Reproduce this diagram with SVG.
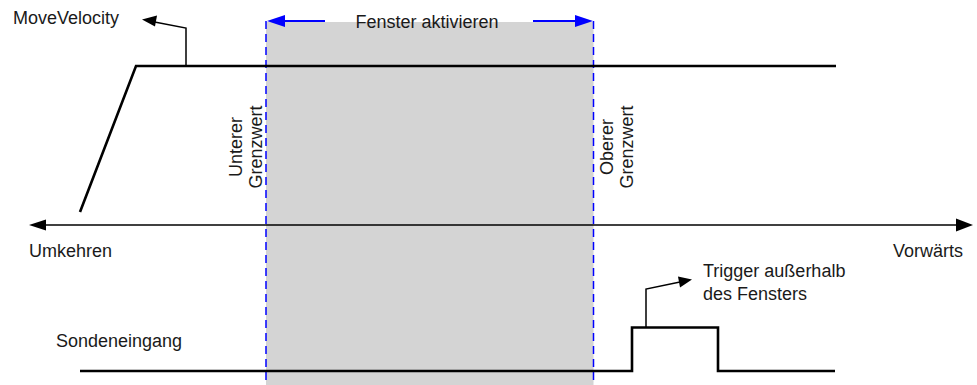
<svg xmlns="http://www.w3.org/2000/svg" width="977" height="385" viewBox="0 0 977 385">
<style>
  text { font-family: "Liberation Sans", Arial, sans-serif; font-size: 18px; fill: #1a1a1a; }
  .sig { fill: none; stroke: #000; stroke-width: 2.6; stroke-linejoin: miter; }
  .thin { fill: none; stroke: #000; stroke-width: 1.5; }
  .lim { fill: none; stroke: #0000ff; stroke-width: 1.5; stroke-dasharray: 8 5; }
  .blue { fill: none; stroke: #0000ff; stroke-width: 1.8; }
</style>
<defs>
  <marker id="ab" viewBox="0 0 16 12" refX="16" refY="6" markerWidth="16" markerHeight="12" markerUnits="userSpaceOnUse" orient="auto">
    <path d="M0,0 L16,6 L0,12 Z" fill="#000"/>
  </marker>
  <marker id="abl" viewBox="0 0 18 12" refX="18" refY="6" markerWidth="18" markerHeight="12" markerUnits="userSpaceOnUse" orient="auto">
    <path d="M0,0 L18,6 L0,12 Z" fill="#0000ff"/>
  </marker>
</defs>

<g id="window">
  <rect x="266" y="22" width="327.5" height="363" fill="#d4d4d4"/>
</g>

<g id="connectors">
  <path class="thin" d="M40,225 L962,225"/>
  <path d="M29,225 L46,219.5 L46,230.5 Z" fill="#000"/>
  <path d="M973,225 L956,218.5 L956,231.5 Z" fill="#000"/>
  <path class="thin" d="M186,66 L186,28 L152,21.5" />
  <path d="M142,19.5 L157,15.5 L155,26.5 Z" fill="#000"/>
  <path class="thin" d="M646,327 L646,289 L680,282"/>
  <path d="M692,279.5 L678,276.5 L680,287.5 Z" fill="#000"/>
  <path class="blue" d="M325,21 L283,21"/>
  <path d="M267,21 L285,15 L285,27 Z" fill="#0000ff"/>
  <path class="blue" d="M533,21 L575,21"/>
  <path d="M593,21 L575,15 L575,27 Z" fill="#0000ff"/>
</g>

<g id="limits">
  <line class="lim" x1="266" y1="21" x2="266" y2="385"/>
  <line class="lim" x1="593.5" y1="21" x2="593.5" y2="385"/>
</g>

<g id="movevelocity">
  <path class="sig" d="M80,212 L136,66 L836,66"/>
  <text x="13" y="24">MoveVelocity</text>
</g>

<g id="probe">
  <path class="sig" d="M80,371 L632,371 L632,327.5 L718,327.5 L718,371 L835,371"/>
  <text x="56" y="347">Sondeneingang</text>
</g>

<g id="labels">
  <text x="427" y="28" text-anchor="middle">Fenster aktivieren</text>
  <text x="29" y="257">Umkehren</text>
  <text x="893" y="257">Vorwärts</text>
  <text x="703" y="277">Trigger außerhalb</text>
  <text x="703" y="300">des Fensters</text>
  <text transform="translate(241.5,147) rotate(-90)" text-anchor="middle">Unterer</text>
  <text transform="translate(261.5,147) rotate(-90)" text-anchor="middle">Grenzwert</text>
  <text transform="translate(613,147) rotate(-90)" text-anchor="middle">Oberer</text>
  <text transform="translate(633,147) rotate(-90)" text-anchor="middle">Grenzwert</text>
</g>
</svg>
